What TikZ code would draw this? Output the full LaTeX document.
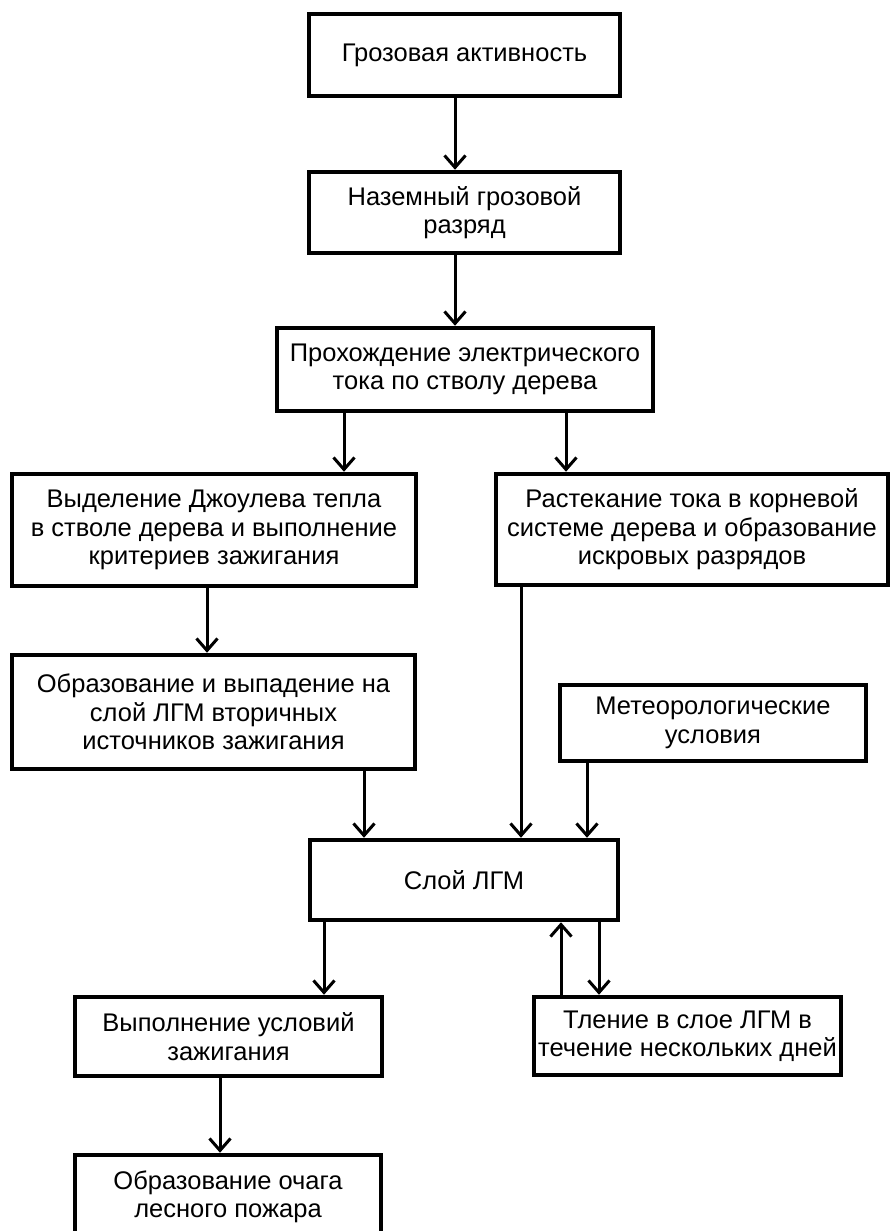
\documentclass[tikz,border=0pt]{standalone}
\usepackage{fontspec}
\setmainfont{Liberation Sans}
\usepackage{tikz}
\usetikzlibrary{arrows.meta, positioning, calc}

\begin{document}
\begin{tikzpicture}
            [
                x=1pt, y=-1pt,
                box/.style=
                {
                    draw, line width=4.5pt, align=center, inner sep=2pt,
                    font=\fontsize{25.5}{28.5}\selectfont
                },
                arr/.style=
                {
                    line width=3pt,
                    -{Straight Barb[length=12pt, width=21pt, line width=3pt]}
                }
            ]
            \useasboundingbox (0,0) rectangle (891,1231);

            \node [box, minimum width=311pt, minimum height=82pt] (gro) at (464.5,55)
                {Грозовая активность};
            \node [box, minimum width=311pt, minimum height=81pt] (razr) at (464.5,212.5)
                {Наземный грозовой\\разряд};
            \node [box, minimum width=376pt, minimum height=83pt] (tok) at (465,369.5)
                {Прохождение электрического\\тока по стволу дерева};
            \node [box, minimum width=404pt, minimum height=112pt] (joule) at (214,530)
                {Выделение Джоулева тепла\\в стволе дерева и выполнение\\критериев зажигания};
            \node [box, minimum width=392pt, minimum height=111pt] (koren) at (692,529.5)
                {Растекание тока в корневой\\системе дерева и образование\\искровых разрядов};
            \node [box, minimum width=403pt, minimum height=114pt] (vtor) at (213.5,712)
                {Образование и выпадение на\\слой ЛГМ вторичных\\источников зажигания};
            \node [box, minimum width=306pt, minimum height=76pt] (meteo) at (713,723)
                {Метеорологические\\условия};
            \node [box, minimum width=308pt, minimum height=80pt] (sloy) at (464,880)
                {Слой ЛГМ};
            \node [box, minimum width=307pt, minimum height=79pt] (vypoln) at (228.5,1036.5)
                {Выполнение условий\\зажигания};
            \node [box, minimum width=307pt, minimum height=78pt] (tlen) at (687.5,1036)
                {Тление в слое ЛГМ в\\течение нескольких дней};
            \node [box, minimum width=306pt, minimum height=84pt] (ochag) at (228,1197)
                {Образование очага\\лесного пожара};

            \draw [arr] ([xshift=-9.5pt]gro.south) -- ([xshift=-9.5pt]gro.south |- razr.north);
            \draw [arr] ([xshift=-9.5pt]razr.south) -- ([xshift=-9.5pt]razr.south |- tok.north);
            \draw [arr] ([xshift=-121pt]tok.south) -- ([xshift=-121pt]tok.south |- joule.north);
            \draw [arr] ([xshift=101pt]tok.south) -- ([xshift=101pt]tok.south |- koren.north);
            \draw [arr] ([xshift=-7pt]joule.south) -- ([xshift=-7pt]joule.south |- vtor.north);
            \draw [arr] ([xshift=150.5pt]vtor.south) -- ([xshift=150.5pt]vtor.south |- sloy.north);
            \draw [arr] ([xshift=-171pt]koren.south) -- ([xshift=-171pt]koren.south |- sloy.north);
            \draw [arr] ([xshift=-126pt]meteo.south) -- ([xshift=-126pt]meteo.south |- sloy.north);
            \draw [arr] ([xshift=-140pt]sloy.south) -- ([xshift=-140pt]sloy.south |- vypoln.north);
            \draw [arr] ([xshift=-8.5pt]vypoln.south) -- ([xshift=-8.5pt]vypoln.south |- ochag.north);
            \draw [arr] ([xshift=135pt]sloy.south) -- ([xshift=135pt]sloy.south |- tlen.north);
            \draw [arr] ([xshift=-126.5pt]tlen.north) -- ([xshift=-126.5pt]tlen.north |- sloy.south);
        \end{tikzpicture}
\end{document}
